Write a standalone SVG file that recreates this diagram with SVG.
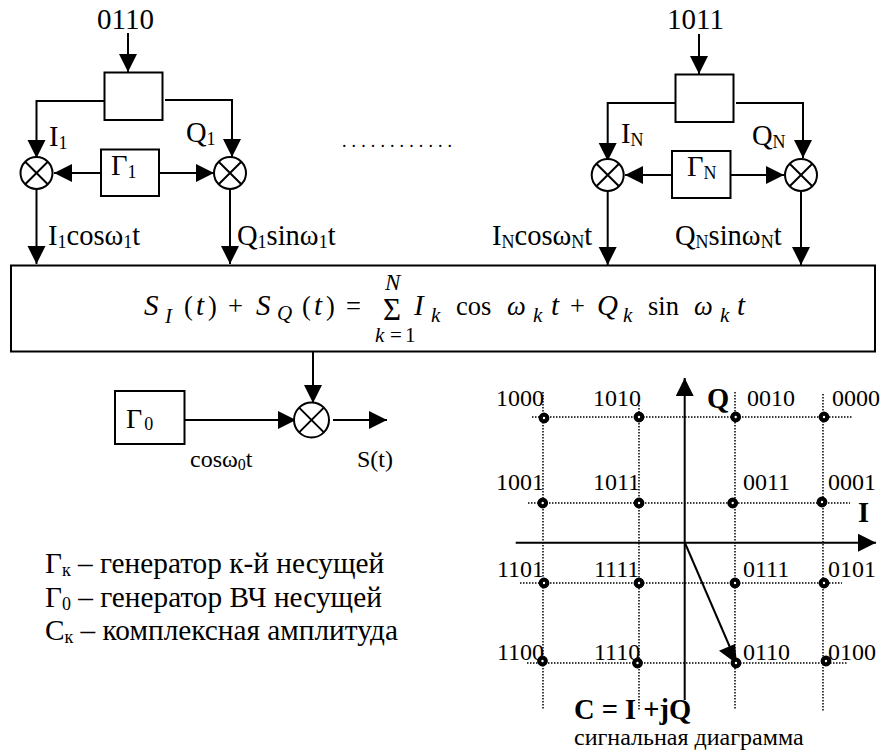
<svg xmlns="http://www.w3.org/2000/svg" width="882" height="752" viewBox="0 0 882 752">
<defs>
<marker id="ah" markerUnits="userSpaceOnUse" markerWidth="19" markerHeight="19" refX="18" refY="9" orient="auto"><path d="M0 0L18 9L0 18Z" fill="#000"/></marker>
</defs>
<style>
text{font-family:"Liberation Serif","Times New Roman",serif;fill:#000}
.l{font-size:28.500px}.t{font-size:29px}.g{font-size:24px}.s{font-size:24px}
.i{font-style:italic}.b{font-weight:bold}
.sub{font-size:18px}.k{font-size:21px}.m{font-size:29px}.n{font-size:26.500px}
.box{fill:#fff;stroke:#000;stroke-width:2}
.mix{fill:#fff;stroke:#000;stroke-width:2}
.w{fill:none;stroke:#000;stroke-width:2}
.a{fill:none;stroke:#000;stroke-width:2;marker-end:url(#ah)}
.d{fill:none;stroke:#000;stroke-width:1.500;stroke-dasharray:1.500 1.500}
.p{fill:#fff;stroke:#000;stroke-width:4.200}
</style>
<g id="connectors">
<path class="a" d="M128 33V72"/>
<path class="a" d="M104 101H36.500V158"/>
<path class="a" d="M165 100H232V157"/>
<path class="a" d="M101 173H54"/>
<path class="a" d="M159 173H214"/>
<path class="a" d="M36.500 189V264"/>
<path class="a" d="M230 189V264"/>
<path class="a" d="M699 34V74"/>
<path class="a" d="M675 103H607.700V161"/>
<path class="a" d="M736 103H803V158"/>
<path class="a" d="M672 175H625"/>
<path class="a" d="M730 175H784"/>
<path class="a" d="M607.700 191V265"/>
<path class="a" d="M801 191V265"/>
<path class="a" d="M313 352V403"/>
<path class="a" d="M184.500 420H296"/>
<path class="a" d="M333 420H387"/>
</g>
<g id="node-split-1"><rect class="box" x="104.500" y="72.500" width="58" height="47.500"/></g>
<g id="node-split-n"><rect class="box" x="675.500" y="74.500" width="58" height="47.500"/></g>
<g id="node-gen-1"><rect class="box" x="101" y="149.500" width="58" height="46.500"/><text class="l" x="111" y="175">Γ<tspan class="sub" dy="3">1</tspan></text></g>
<g id="node-gen-n"><rect class="box" x="672" y="151" width="58.500" height="47"/><text class="l" x="687" y="176">Γ<tspan class="sub" dy="3">N</tspan></text></g>
<g id="node-mix-i1"><circle class="mix" cx="36.500" cy="173" r="16"/><path class="w" d="M25.200 161.700L47.800 184.300M47.800 161.700L25.200 184.300"/></g>
<g id="node-mix-q1"><circle class="mix" cx="230" cy="173" r="16"/><path class="w" d="M218.700 161.700L241.300 184.300M241.300 161.700L218.700 184.300"/></g>
<g id="node-mix-in"><circle class="mix" cx="607.700" cy="175" r="16"/><path class="w" d="M596.400 163.700L619 186.300M619 163.700L596.400 186.300"/></g>
<g id="node-mix-qn"><circle class="mix" cx="801" cy="175" r="16"/><path class="w" d="M789.700 163.700L812.300 186.300M812.300 163.700L789.700 186.300"/></g>
<g id="node-sum"><rect class="box" x="11" y="265.500" width="864" height="86"/>
<text class="m i" x="144" y="315">S</text><text class="k i" x="165" y="323">I</text>
<text class="n" x="184" y="315">(</text><text class="m i" x="196" y="315">t</text><text class="n" x="208" y="315">)</text>
<text class="n" x="228" y="315">+</text>
<text class="m i" x="256" y="315">S</text><text class="k i" x="277" y="320">Q</text>
<text class="n" x="302" y="315">(</text><text class="m i" x="314" y="315">t</text><text class="n" x="326" y="315">)</text>
<text class="n" x="346" y="315">=</text>
<text style="font-size:31px" x="383" y="320">Σ</text>
<text class="i" style="font-size:23px" x="385" y="290">N</text>
<text class="k i" x="375" y="342">k</text><text class="k" x="390" y="342">=</text><text class="k" x="405" y="342">1</text>
<text class="m i" x="414" y="315">I</text><text class="k i" x="431" y="322">k</text>
<text class="n" x="456" y="315">cos</text>
<text class="n i" x="507" y="315">ω</text><text class="k i" x="533" y="322">k</text>
<text class="m i" x="551" y="315">t</text><text class="n" x="570" y="315">+</text>
<text class="m i" x="597" y="315">Q</text><text class="k i" x="623" y="322">k</text>
<text class="n" x="648" y="315">sin</text>
<text class="n i" x="694" y="315">ω</text><text class="k i" x="720" y="322">k</text>
<text class="m i" x="737" y="315">t</text>
</g>
<g id="node-gen-0"><rect class="box" x="115" y="391" width="69.500" height="53"/><text style="font-size:28px" x="126" y="428">Γ<tspan class="sub" dx="2" dy="2">0</tspan></text></g>
<g id="node-mix-0"><circle class="mix" cx="311.500" cy="420" r="17.500"/><path class="w" d="M299.100 407.600L323.900 432.400M323.900 407.600L299.100 432.400"/></g>
<g id="labels">
<text class="t" x="97" y="29">0110</text>
<text class="t" x="667" y="29">1011</text>
<text class="l" x="49" y="146">I<tspan class="sub" dy="3">1</tspan></text>
<text class="l" x="186" y="142">Q<tspan class="sub" dy="3">1</tspan></text>
<text class="l" x="621" y="143">I<tspan class="sub" dy="3">N</tspan></text>
<text class="l" x="752" y="145">Q<tspan class="sub" dy="3">N</tspan></text>
<text class="l" x="48" y="245">I<tspan class="sub" dy="3">1</tspan><tspan dy="-3">cosω</tspan><tspan class="sub" dy="3">1</tspan><tspan dy="-3">t</tspan></text>
<text class="l" x="237" y="245">Q<tspan class="sub" dy="3">1</tspan><tspan dy="-3">sinω</tspan><tspan class="sub" dy="3">1</tspan><tspan dy="-3">t</tspan></text>
<text class="l" x="492" y="245">I<tspan class="sub" dy="3">N</tspan><tspan dy="-3">cosω</tspan><tspan class="sub" dy="3">N</tspan><tspan dy="-3">t</tspan></text>
<text class="l" x="675" y="245">Q<tspan class="sub" dy="3">N</tspan><tspan dy="-3">sinω</tspan><tspan class="sub" dy="3">N</tspan><tspan dy="-3">t</tspan></text>
<text style="font-size:18px;letter-spacing:5.100px" x="342" y="147">............</text>
<text class="s" x="190" y="467">cosω<tspan style="font-size:16px" dy="3">0</tspan><tspan dy="-3">t</tspan></text>
<text class="s" x="357" y="467">S(t)</text>
<text style="font-size:29.300px" x="45" y="573">Γ<tspan class="sub" dy="3">к</tspan><tspan dy="-3"> – генератор к-й несущей</tspan></text>
<text style="font-size:29.300px" x="45" y="607">Γ<tspan class="sub" dy="3">0</tspan><tspan dy="-3"> – генератор ВЧ несущей</tspan></text>
<text style="font-size:29.300px" x="45" y="640">C<tspan class="sub" dy="3">к</tspan><tspan dy="-3"> – комплексная амплитуда</tspan></text>
</g>
<g id="constellation">
<path class="d" d="M532 417H853M528 503H850M520 583H842M527 663H848M543 392V710M639 405V710M735 392V710M823 394V712"/>
<path class="a" d="M684.700 700V378"/>
<path class="a" d="M515.700 542.700H876"/>
<path class="w" d="M685 543L732 652"/>
<path d="M719 650.700L735 644L737 664Z"/>
<g>
<circle class="p" cx="544" cy="418" r="3.300"/><circle class="p" cx="639" cy="417" r="3.300"/><circle class="p" cx="735.700" cy="417" r="3.300"/><circle class="p" cx="824" cy="417" r="3.300"/>
<circle class="p" cx="542.700" cy="503" r="3.300"/><circle class="p" cx="639" cy="503" r="3.300"/><circle class="p" cx="732.700" cy="503" r="3.300"/><circle class="p" cx="822" cy="502" r="3.300"/>
<circle class="p" cx="544" cy="583" r="3.300"/><circle class="p" cx="639" cy="583" r="3.300"/><circle class="p" cx="735" cy="583" r="3.300"/><circle class="p" cx="824" cy="583" r="3.300"/>
<circle class="p" cx="542.500" cy="661" r="3.300"/><circle class="p" cx="637.500" cy="663" r="3.300"/><circle class="p" cx="736" cy="663" r="3.300"/><circle class="p" cx="826" cy="661" r="3.300"/>
</g>
<text class="g" x="496" y="406">1000</text><text class="g" x="593" y="406">1010</text><text class="g" x="747" y="406">0010</text><text class="g" x="832" y="406">0000</text>
<text class="g" x="496" y="490">1001</text><text class="g" x="593" y="490">1011</text><text class="g" x="743" y="490">0011</text><text class="g" x="828" y="490">0001</text>
<text class="g" x="497" y="577">1101</text><text class="g" x="594" y="577">1111</text><text class="g" x="743" y="577">0111</text><text class="g" x="828" y="577">0101</text>
<text class="g" x="497" y="660">1100</text><text class="g" x="594" y="660">1110</text><text class="g" x="743" y="660">0110</text><text class="g" x="828" y="660">0100</text>
<text class="b" style="font-size:28.500px" x="707" y="408">Q</text>
<text class="b" style="font-size:28.500px" x="858" y="522">I</text>
<text class="b" style="font-size:28.500px" x="574" y="719">C = I +jQ</text>
<text class="s" x="574" y="745">сигнальная диаграмма</text>
</g>
</svg>
